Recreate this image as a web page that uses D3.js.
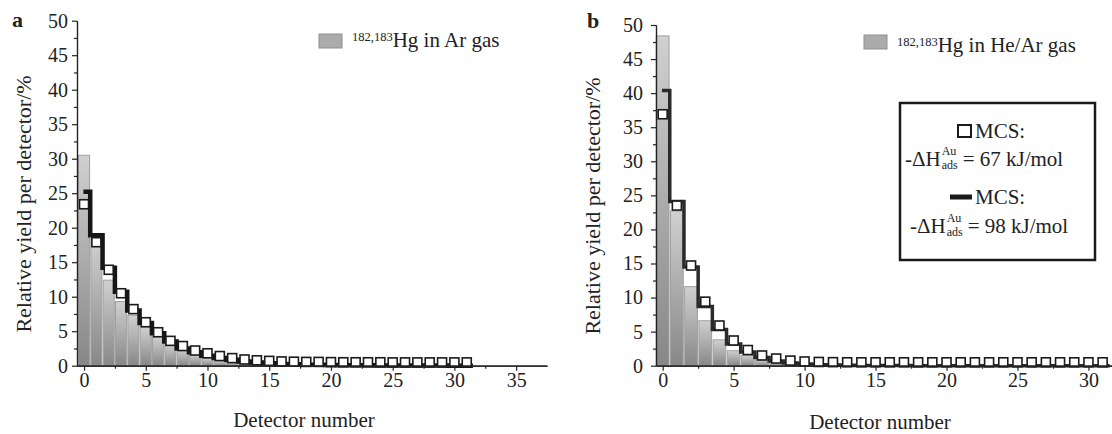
<!DOCTYPE html>
<html>
<head>
<meta charset="utf-8">
<script src="https://cdn.jsdelivr.net/npm/d3@7"></script>
<style>
  body { margin: 0; background: #fff; }
  text { font-family: "Liberation Serif", "Times New Roman", serif; fill: #222; }
</style>
</head>
<body>
<svg id="chart" width="1112" height="434"></svg>
<script>
// values (relative yield per detector, %)
let yTicks = [0, 5, 10, 15, 20, 25, 30, 35, 40, 45, 50];
let yMinor = [2.5, 7.5, 12.5, 17.5, 22.5, 27.5, 32.5, 37.5, 42.5, 47.5];
let xTicksA = [0, 5, 10, 15, 20, 25, 30, 35];
let xMinorA = [2.5, 7.5, 12.5, 17.5, 22.5, 27.5, 32.5];
let xTicksB = [0, 5, 10, 15, 20, 25, 30];
let xMinorB = [2.5, 7.5, 12.5, 17.5, 22.5, 27.5];

// panel a: Hg in Ar gas
let barsA = [30.5, 18.4, 12.4, 9.3, 7.3, 5.6, 4.2, 3.1, 2.3, 1.65, 1.1, 0.75, 0.5, 0.35, 0.25,
    0.18, 0.12, 0.08, 0.05, 0.04];
let squaresA = [23.4, 17.9, 13.9, 10.5, 8.2, 6.3, 4.85, 3.6, 2.85, 2.2, 1.8, 1.4, 1.1, 0.9, 0.78,
    0.7, 0.62, 0.58, 0.55, 0.55, 0.52, 0.5, 0.5, 0.5, 0.5, 0.48, 0.48, 0.48, 0.48, 0.48, 0.48, 0.48];
let stepA = [25.2, 18.9, 14.2, 10.7, 8.0, 6.2, 4.7, 3.5, 2.5, 1.95, 1.45, 1.1, 0.85, 0.6, 0.45,
    0.35, 0.25, 0.2, 0.15, 0.12, 0.1, 0.08, 0.06, 0.05, 0.04, 0.03, 0.03, 0.02, 0.02, 0.02, 0.01, 0.01];

// panel b: Hg in He/Ar gas
let barsB = [48.4, 22.7, 11.6, 6.6, 3.8, 2.2, 1.5, 0.85, 0.45, 0.25, 0.15, 0.1, 0.06];
let squaresB = [36.9, 23.5, 14.7, 9.4, 5.9, 3.7, 2.3, 1.5, 1.05, 0.75, 0.62, 0.55, 0.52, 0.5, 0.5,
    0.5, 0.5, 0.5, 0.5, 0.5, 0.5, 0.5, 0.5, 0.5, 0.5, 0.5, 0.5, 0.5, 0.5, 0.5, 0.5, 0.5];
let stepB = [40.4, 24.1, 14.5, 8.7, 5.3, 3.2, 2.0, 1.2, 0.7, 0.4, 0.25, 0.15, 0.1, 0.06, 0.04,
    0.03, 0.02, 0.02, 0.01, 0.01, 0.01, 0.01, 0.01, 0.01, 0.01, 0.01, 0.01, 0.01, 0.01, 0.01, 0.01, 0.01];

let svg = d3.select('#chart');

let defs = svg.append('defs');
let grad = defs.append('linearGradient')
    .attr('id', 'barGrad')
    .attr('x1', 0).attr('y1', 0).attr('x2', 0).attr('y2', 1);
grad.append('stop').attr('offset', '0%').attr('stop-color', '#d0d0d0');
grad.append('stop').attr('offset', '100%').attr('stop-color', '#878787');

function draw_panel(p) {
    let x = d3.scaleLinear().domain(p.xDomain).range([p.left, p.right]);
    let y = d3.scaleLinear().domain([0, 50]).range([p.bottom, p.top]);
    let g = svg.append('g');

    // bars
    g.selectAll('rect.bar')
        .data(p.bars)
        .join('rect')
        .attr('class', 'bar')
        .attr('x', (d, i) => x(i - 0.45))
        .attr('width', x(0.45) - x(-0.45))
        .attr('y', d => y(d))
        .attr('height', d => y(0) - y(d))
        .attr('fill', 'url(#barGrad)')
        .attr('stroke', '#a0a0a0')
        .attr('stroke-width', 1);

    // MCS step line
    let pts = [];
    p.step.forEach((v, i) => {
        pts.push([i === 0 ? -0.05 : i - 0.5, v]);
        pts.push([i + 0.5, v]);
    });
    let line = d3.line().x(d => x(d[0])).y(d => y(d[1]));
    g.append('path')
        .attr('d', line(pts))
        .attr('fill', 'none')
        .attr('stroke', p.stepColor)
        .attr('stroke-width', p.stepWidth)
        .attr('stroke-linejoin', 'miter');

    // MCS squares
    let s = 9;
    g.selectAll('rect.sq')
        .data(p.squares)
        .join('rect')
        .attr('class', 'sq')
        .attr('x', (d, i) => x(i) - s / 2)
        .attr('y', d => y(d) - s / 2)
        .attr('width', s)
        .attr('height', s)
        .attr('fill', '#fff')
        .attr('stroke', '#1a1a1a')
        .attr('stroke-width', 1.6);

    // axes
    g.append('g')
        .attr('transform', `translate(${p.left},0)`)
        .call(d3.axisLeft(y).tickValues(yTicks).tickSize(5).tickSizeOuter(0).tickPadding(p.yPad));
    g.append('g')
        .attr('transform', `translate(${p.left},0)`)
        .call(d3.axisLeft(y).tickValues(yMinor).tickSize(3).tickSizeOuter(0).tickFormat(''));
    g.append('g')
        .attr('transform', `translate(0,${p.bottom})`)
        .call(d3.axisBottom(x).tickValues(p.xTicks).tickSize(5).tickSizeOuter(0).tickPadding(2));
    g.append('g')
        .attr('transform', `translate(0,${p.bottom})`)
        .call(d3.axisBottom(x).tickValues(p.xMinor).tickSize(3).tickSizeOuter(0).tickFormat(''));

    g.selectAll('.domain, .tick line').attr('stroke', '#222').attr('stroke-width', 1.2);
    g.selectAll('.tick text')
        .attr('font-family', '"Liberation Serif", serif')
        .attr('font-size', 20)
        .attr('fill', '#222');

    // titles
    g.append('text')
        .attr('transform', `translate(${p.yTitleX},${p.yTitleY}) rotate(-90)`)
        .attr('text-anchor', 'middle')
        .attr('font-size', 22)
        .text('Relative yield per detector/%');
    g.append('text')
        .attr('x', p.xTitleX)
        .attr('y', p.xTitleY)
        .attr('text-anchor', 'middle')
        .attr('font-size', 21)
        .text('Detector number');
    g.append('text')
        .attr('x', p.letterX)
        .attr('y', p.letterY)
        .attr('font-size', 22)
        .attr('font-weight', 'bold')
        .text(p.letter);

    // bar legend
    g.append('rect')
        .attr('x', p.leg.x).attr('y', p.leg.y)
        .attr('width', 23).attr('height', 14)
        .attr('fill', '#ababab')
        .attr('stroke', '#8f8f8f');
    let lt = g.append('text')
        .attr('x', p.leg.x + 33)
        .attr('y', p.leg.base);
    lt.append('tspan').attr('font-size', 12.5).attr('dy', -6).text('182,183');
    lt.append('tspan').attr('font-size', 21).attr('dy', 6).text(p.leg.label);
    return g;
}

draw_panel({
    letter: 'a', letterX: 12, letterY: 27,
    left: 77, right: 547, top: 20.7, bottom: 365.7, xDomain: [-0.57, 37.5],
    xTicks: xTicksA, xMinor: xMinorA, yPad: 4,
    bars: barsA, squares: squaresA, step: stepA, stepColor: '#161616', stepWidth: 4.5,
    yTitleX: 31, yTitleY: 204, xTitleX: 304, xTitleY: 427,
    leg: {x: 319, y: 34, base: 47, label: 'Hg in Ar gas'}
});

let gb = draw_panel({
    letter: 'b', letterX: 587, letterY: 28,
    left: 656, right: 1112, top: 25, bottom: 365.7, xDomain: [-0.47, 31.66],
    xTicks: xTicksB, xMinor: xMinorB, yPad: 8,
    bars: barsB, squares: squaresB, step: stepB, stepColor: '#2a2a2a', stepWidth: 3.5,
    yTitleX: 600, yTitleY: 206, xTitleX: 880, xTitleY: 429,
    leg: {x: 864, y: 35, base: 52, label: 'Hg in He/Ar gas'}
});

// MCS legend box in panel b
let box = gb.append('g');
box.append('rect')
    .attr('x', 900).attr('y', 103)
    .attr('width', 195).attr('height', 157)
    .attr('fill', '#fff')
    .attr('stroke', '#1a1a1a')
    .attr('stroke-width', 2.5);

box.append('rect')
    .attr('x', 958).attr('y', 125)
    .attr('width', 13).attr('height', 12)
    .attr('fill', '#fff')
    .attr('stroke', '#1a1a1a')
    .attr('stroke-width', 2);
box.append('text').attr('x', 975).attr('y', 138).attr('font-size', 21).text('MCS:');

box.append('line')
    .attr('x1', 950).attr('x2', 972)
    .attr('y1', 197).attr('y2', 197)
    .attr('stroke', '#1a1a1a')
    .attr('stroke-width', 5);
box.append('text').attr('x', 975).attr('y', 204).attr('font-size', 21).text('MCS:');

function enthalpy(x0, base, value) {
    let t = box.append('text').attr('x', x0).attr('y', base).attr('font-size', 21).text('-\u0394H');
    let w = t.node().getComputedTextLength();
    let sup = box.append('text').attr('x', x0 + w + 1).attr('y', base - 11).attr('font-size', 12).text('Au');
    let sub = box.append('text').attr('x', x0 + w + 1).attr('y', base + 3).attr('font-size', 12).text('ads');
    let w2 = Math.max(sup.node().getComputedTextLength(), sub.node().getComputedTextLength());
    box.append('text').attr('x', x0 + w + w2 + 6).attr('y', base).attr('font-size', 21)
        .text('= ' + value + ' kJ/mol');
}
enthalpy(905, 166, 67);
enthalpy(910, 233, 98);
</script>
</body>
</html>
